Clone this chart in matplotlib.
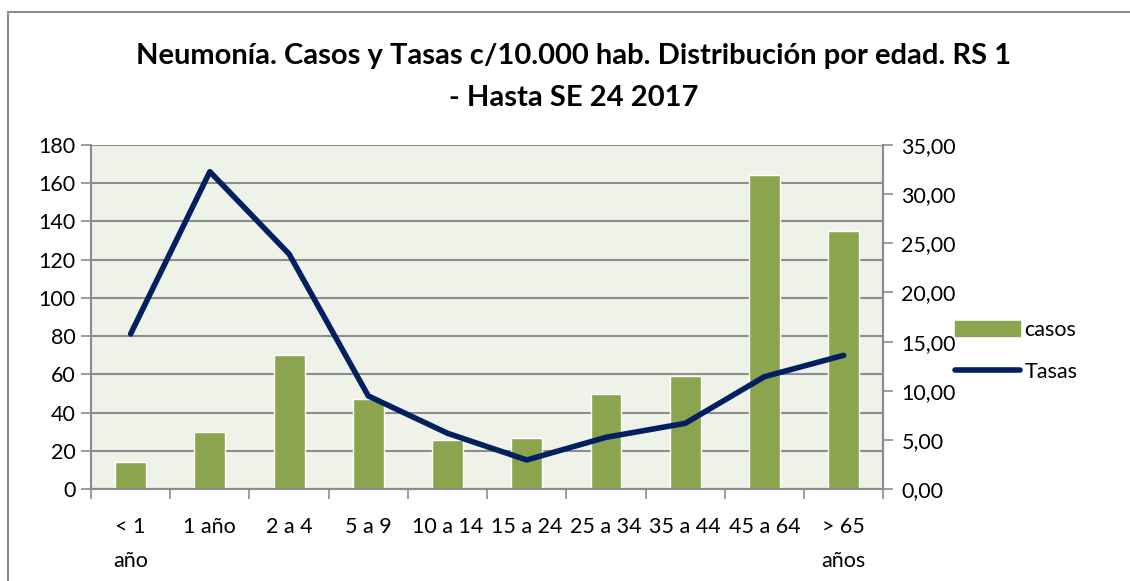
import numpy as np
import matplotlib.pyplot as plt
from matplotlib.patches import Rectangle
from matplotlib.lines import Line2D

### Datos ###
categorias = ['< 1\naño', '1 año', '2 a 4', '5 a 9', '10 a 14', '15 a 24',
              '25 a 34', '35 a 44', '45 a 64', '> 65\naños']
casos = [14, 30, 70, 47, 26, 27, 50, 59, 164, 135]
tasas = [15.78, 32.26, 23.9, 9.48, 5.69, 2.98, 5.28, 6.70, 11.44, 13.61]

verde = '#8BA54E'
azul = '#002060'
gris = '#8C8C8C'

plt.rcParams['font.family'] = ['Lato', 'DejaVu Sans']

fig = plt.figure(figsize=(11.3, 5.81), dpi=100)
ax = fig.add_axes([91 / 1130, 1 - 489.3 / 581, (883.3 - 91) / 1130, (489.3 - 144.7) / 581])
ax2 = ax.twinx()

x = np.arange(len(categorias))

### Barras (eje izquierdo) ###
ax.set_facecolor('#EFF2E9')
ax.bar(x, casos, width=0.39, color=verde, edgecolor='white', linewidth=1, zorder=3)
ax.set_xlim(-0.5, len(categorias) - 0.5)
ax.set_ylim(0, 180)
ax.set_yticks(np.arange(0, 181, 20))
ax.grid(axis='y', color=gris, linewidth=1.5, zorder=0)
ax.set_axisbelow(True)

### Linea (eje derecho) ###
ax2.plot(x, tasas, color=azul, linewidth=4, solid_capstyle='round', zorder=4)
ax2.set_ylim(0, 35)
ax2.set_yticks(np.arange(0, 35.1, 5))
ax2.set_yticklabels([f'{v:.2f}'.replace('.', ',') for v in np.arange(0, 35.1, 5)])

### Ejes ###
ax.set_xticks(np.arange(-0.5, len(categorias), 1))
ax.set_xticklabels([])
ax.set_xticks(x, minor=True)
ax.set_xticklabels(categorias, minor=True, fontsize=15.5, linespacing=1.9, va='top')
ax.tick_params(axis='x', which='major', length=7, color=gris, width=1.2, direction='out')
ax.tick_params(axis='x', which='minor', length=0, pad=20)
ax.tick_params(axis='y', length=7, color=gris, width=1.2, labelsize=15.5, pad=4)
ax2.tick_params(axis='y', length=7, color=gris, width=1.2, labelsize=15.5, pad=6)
for a in (ax, ax2):
    for s in a.spines.values():
        s.set_color(gris)
        s.set_linewidth(1.5)
    a.spines['top'].set_visible(False)

### Titulo ###
fig.text(574 / 1130, 1 - 56 / 581, 'Neumonía. Casos y Tasas c/10.000 hab. Distribución por edad. RS 1',
         ha='center', va='center', fontsize=21, fontweight='bold')
fig.text(574 / 1130, 1 - 98 / 581, '- Hasta SE 24 2017',
         ha='center', va='center', fontsize=21, fontweight='bold')

### Leyenda ###
handles = [Rectangle((0, 0), 1, 1, color=verde),
           Line2D([0], [0], color=azul, linewidth=4, solid_capstyle='round')]
fig.legend(handles, ['casos', 'Tasas'], loc='center left', bbox_to_anchor=(936 / 1130, 1 - 351 / 581),
           frameon=False, fontsize=15.5, handlelength=3.0, handletextpad=0.2, labelspacing=1.0)

### Borde ###
fig.patches.append(Rectangle((8 / 1130, -0.1), 1.2, 1 - 12 / 581 + 0.1, transform=fig.transFigure,
                             fill=False, edgecolor='#8C8C8C', linewidth=1.5))

fig.savefig('out.png', dpi=100)
